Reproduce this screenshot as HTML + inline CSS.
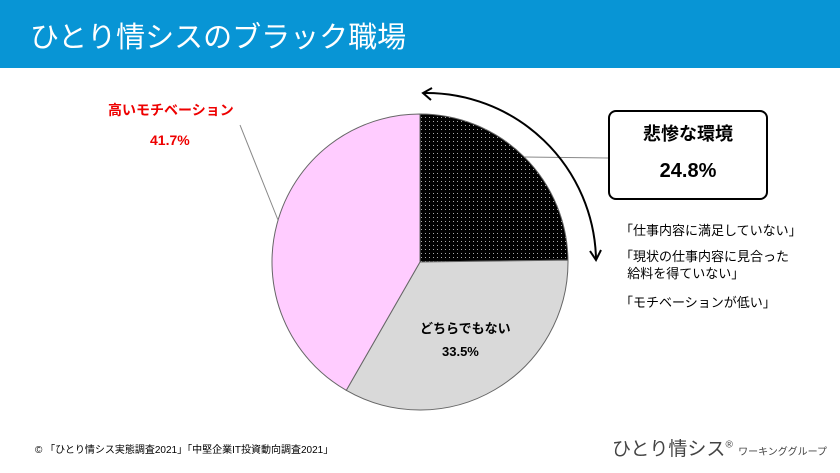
<!DOCTYPE html>
<html><head><meta charset="utf-8"><style>
body{margin:0;width:840px;height:473px;overflow:hidden;background:#fff;font-family:"Liberation Sans","Noto Sans CJK JP",sans-serif;position:relative}
.t{position:absolute;white-space:nowrap}
</style></head><body>
<div style="position:absolute;left:0;top:0;width:840px;height:68px;background:#0895d5"></div>
<div class="t" style="left:30px;top:14px;font-size:29px;color:#fff">ひとり情シスのブラック職場</div>
<svg id="chart" width="840" height="473" style="position:absolute;left:0;top:0">
<defs><pattern id="dots" width="4" height="4" patternUnits="userSpaceOnUse"><rect width="4" height="4" fill="#000"/><rect x="1" y="1" width="1" height="1" fill="#aaa"/></pattern></defs>
</svg>
<div style="position:absolute;left:608px;top:110px;width:160px;height:90px;border:2px solid #000;border-radius:8px;box-sizing:border-box"></div>
<div class="t" style="left:608px;width:160px;text-align:center;top:120px;font-size:18px;font-weight:bold">悲惨な環境</div>
<div class="t" style="left:608px;width:160px;text-align:center;top:160px;font-size:20px;font-weight:bold">24.8%</div>
<div class="t" style="left:620px;top:220px;font-size:13px">「仕事内容に満足していない」</div>
<div class="t" style="left:620px;top:248px;font-size:13px;line-height:17px">「現状の仕事内容に見合った<br>&nbsp;&nbsp;給料を得ていない」</div>
<div class="t" style="left:620px;top:292px;font-size:13px">「モチベーションが低い」</div>
<div class="t" style="left:108px;top:100px;font-size:14px;font-weight:bold;color:#e00">高いモチベーション</div>
<div class="t" style="left:150px;top:132px;font-size:14px;font-weight:bold;color:#e00">41.7%</div>
<div class="t" style="left:420px;top:318px;font-size:13px;font-weight:bold">どちらでもない</div>
<div class="t" style="left:442px;top:344px;font-size:13px;font-weight:bold">33.5%</div>
<div class="t" style="left:35px;top:441px;font-size:10px">© 「ひとり情シス実態調査2021」「中堅企業IT投資動向調査2021」</div>
<div class="t" style="left:612px;top:434px;font-size:19px;color:#444">ひとり情シス<sup style="font-size:10px">®</sup> <span style="font-size:10px">ワーキンググループ</span></div>
<script>
const categories=["悲惨な環境","どちらでもない","高いモチベーション"];
const values=[24.8,33.5,41.7];
const fills=["url(#dots)","#d9d9d9","#ffccff"];
const svg=document.getElementById('chart');const NS="http://www.w3.org/2000/svg";
const cx=420,cy=262,r=148;
const total=values.reduce((a,b)=>a+b,0);
let a0=0;
function pt(a,rr){return [cx+rr*Math.sin(a),cy-rr*Math.cos(a)];}
values.forEach((v,i)=>{
 const a1=a0+v/total*2*Math.PI;
 const p0=pt(a0,r),p1=pt(a1,r);
 const p=document.createElementNS(NS,'path');
 p.setAttribute('d',`M${cx},${cy}L${p0[0]},${p0[1]}A${r},${r} 0 ${a1-a0>Math.PI?1:0} 1 ${p1[0]},${p1[1]}Z`);
 p.setAttribute('fill',fills[i]);p.setAttribute('stroke','#666');p.setAttribute('stroke-width','1');
 
 
 svg.appendChild(p);a0=a1;
});
function add(tag,attrs,name){const e=document.createElementNS(NS,tag);for(const k in attrs)e.setAttribute(k,attrs[k]);
 
 
 svg.appendChild(e);return e;}
add('line',{x1:524,y1:157,x2:608,y2:158,stroke:'#888'},'leader-line-callout');
add('line',{x1:278,y1:220,x2:240,y2:125,stroke:'#888'},'leader-line-high');
add('path',{d:'M424,93 A170,170 0 0 1 596,258',fill:'none',stroke:'#000','stroke-width':2},'arc-arrow');
add('path',{d:'M432,88 L423,93 L431,100',fill:'none',stroke:'#000','stroke-width':2},'arrowhead-top');
add('path',{d:'M590,251 L596,260 L601,250',fill:'none',stroke:'#000','stroke-width':2},'arrowhead-bottom');
</script>
</body></html>
